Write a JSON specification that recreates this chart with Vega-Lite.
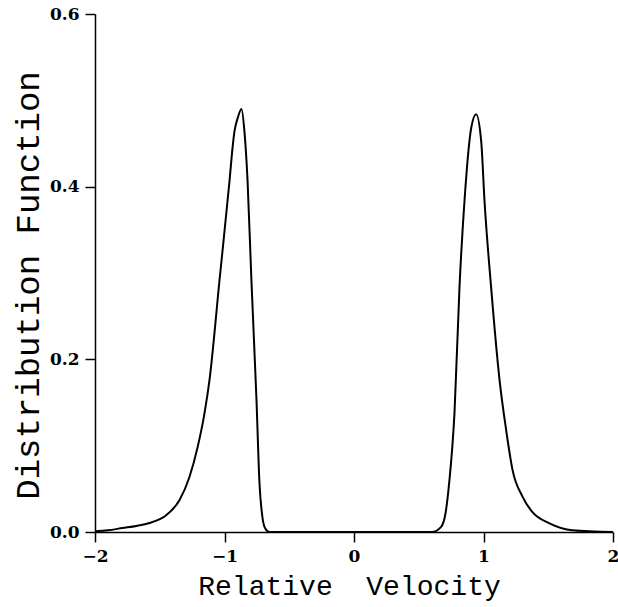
{
  "$schema": "https://vega.github.io/schema/vega-lite/v6.json",
  "width": 518,
  "height": 518,
  "autosize": {"type": "none"},
  "padding": {"left": 95, "top": 14, "right": 5, "bottom": 75},
  "background": "white",
  "data": {
    "values": [
      {"v": -2.0, "f": 0.001},
      {"v": -1.9, "f": 0.002},
      {"v": -1.788, "f": 0.0046},
      {"v": -1.68, "f": 0.007},
      {"v": -1.579, "f": 0.0104},
      {"v": -1.448, "f": 0.0197},
      {"v": -1.347, "f": 0.037},
      {"v": -1.27, "f": 0.064},
      {"v": -1.208, "f": 0.098},
      {"v": -1.154, "f": 0.138},
      {"v": -1.116, "f": 0.176},
      {"v": -1.039, "f": 0.291},
      {"v": -0.961, "f": 0.407},
      {"v": -0.938, "f": 0.445},
      {"v": -0.923, "f": 0.464},
      {"v": -0.897, "f": 0.48},
      {"v": -0.869, "f": 0.49},
      {"v": -0.846, "f": 0.464},
      {"v": -0.822, "f": 0.407},
      {"v": -0.792, "f": 0.291},
      {"v": -0.753, "f": 0.153},
      {"v": -0.73, "f": 0.057},
      {"v": -0.707, "f": 0.017},
      {"v": -0.685, "f": 0.004},
      {"v": -0.654, "f": 0.0},
      {"v": 0.6, "f": 0.0},
      {"v": 0.673, "f": 0.006},
      {"v": 0.707, "f": 0.022},
      {"v": 0.737, "f": 0.06},
      {"v": 0.776, "f": 0.138},
      {"v": 0.815, "f": 0.285},
      {"v": 0.853, "f": 0.383},
      {"v": 0.905, "f": 0.468},
      {"v": 0.943, "f": 0.484},
      {"v": 0.982, "f": 0.453},
      {"v": 1.008, "f": 0.383},
      {"v": 1.059, "f": 0.283},
      {"v": 1.124, "f": 0.176},
      {"v": 1.175, "f": 0.118},
      {"v": 1.224, "f": 0.072},
      {"v": 1.301, "f": 0.041},
      {"v": 1.378, "f": 0.023},
      {"v": 1.51, "f": 0.01},
      {"v": 1.687, "f": 0.002},
      {"v": 2.0, "f": 0.0}
    ]
  },
  "mark": {"type": "line", "color": "black", "strokeWidth": 2, "interpolate": "monotone", "clip": true},
  "encoding": {
    "x": {
      "field": "v", "type": "quantitative",
      "scale": {"domain": [-2, 2], "nice": false, "zero": false},
      "axis": {
        "values": [-2, -1, 0, 1, 2], "format": "d", "grid": false,
        "title": "Relative\u00a0 Velocity",
        "titleFont": "Liberation Mono", "titleFontSize": 28, "titleFontWeight": "normal", "titleColor": "black",
        "titleX": 254, "titleY": 62, "titleBaseline": "alphabetic", "titleAlign": "center",
        "labelFont": "DejaVu Serif", "labelFontWeight": "bold", "labelFontSize": 17, "labelColor": "black",
        "labelPadding": 6, "tickSize": 10, "tickColor": "black", "domainColor": "black",
        "tickWidth": 1.5, "domainWidth": 1.5, "labelFlush": false, "labelOverlap": false
      }
    },
    "y": {
      "field": "f", "type": "quantitative",
      "scale": {"domain": [0, 0.6], "nice": false},
      "axis": {
        "values": [0, 0.2, 0.4, 0.6], "format": ".1f", "grid": false,
        "title": "Distribution Function",
        "titleFont": "Liberation Mono", "titleFontSize": 34, "titleFontWeight": "normal", "titleColor": "black",
        "titleAngle": -90, "titleX": -67, "titleY": 271, "titleAlign": "center", "titleBaseline": "middle",
        "labelFont": "DejaVu Serif", "labelFontWeight": "bold", "labelFontSize": 17, "labelColor": "black",
        "labelPadding": 6, "tickSize": 10, "tickColor": "black", "domainColor": "black",
        "tickWidth": 1.5, "domainWidth": 1.5, "labelFlush": false, "labelOverlap": false
      }
    }
  },
  "config": {"view": {"stroke": null}}
}
